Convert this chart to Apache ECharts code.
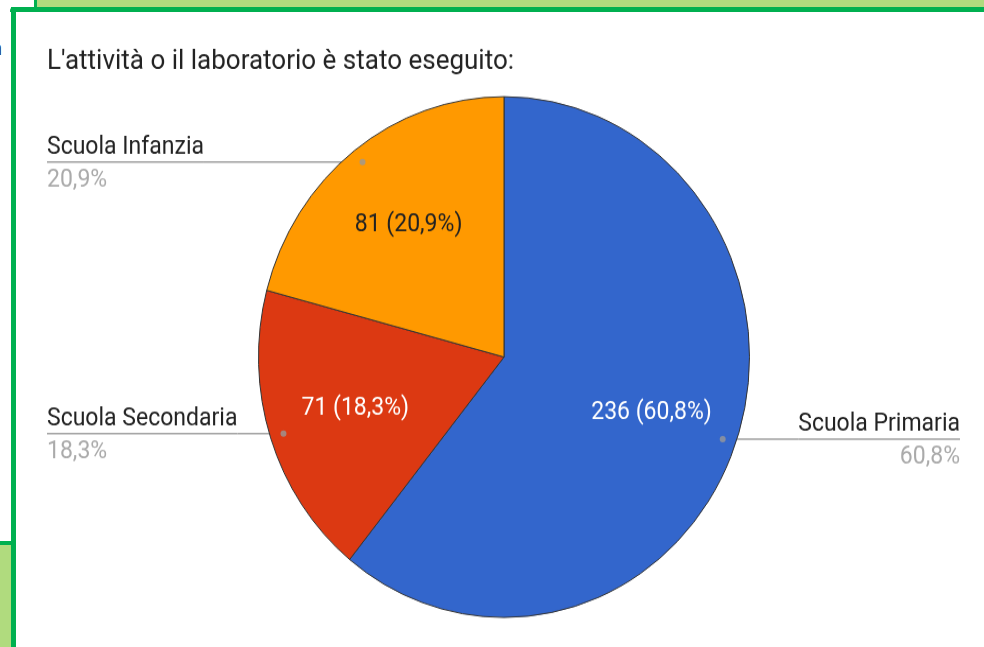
<!DOCTYPE html>
<html>
<head>
<meta charset="utf-8">
<script src="https://cdn.jsdelivr.net/npm/echarts@6/dist/echarts.min.js"></script>
<style>
  html, body { margin: 0; padding: 0; background: #fff; overflow: hidden; }
  #wrap { position: relative; width: 984px; height: 647px; overflow: hidden; background: #fff; }
  .bar { position: absolute; }
  #chart { position: absolute; left: 0; top: 0; width: 984px; height: 610px;
           transform: scaleY(1.0607); transform-origin: 0 0; }
</style>
</head>
<body>
<div id="wrap">
  <!-- green frames round the panel -->
  <div class="bar" style="left:37px;top:0;width:947px;height:8px;background:#b0db7e;"></div>
  <div class="bar" style="left:34px;top:0;width:3px;height:8px;background:#00b050;"></div>
  <div class="bar" style="left:10px;top:7px;width:974px;height:5px;background:#00b050;border-top-left-radius:4px;"></div>
  <div class="bar" style="left:11px;top:7px;width:5px;height:640px;background:#00b050;"></div>
  <div class="bar" style="left:0;top:541px;width:12px;height:4px;background:#00b050;"></div>
  <div class="bar" style="left:0;top:545px;width:11px;height:102px;background:#b0db7e;"></div>
  <div class="bar" style="left:-9px;top:36px;font:20px Roboto;color:#222;">n</div>
  <div id="chart"></div>
</div>
<script type="text/javascript">
    // categories and counts
    var names = ['Scuola Primaria', 'Scuola Secondaria', 'Scuola Infanzia'];
    var counts = [236, 71, 81];
    var palette = ['#3366cc', '#dc3912', '#ff9900'];
    var innerTextColors = ['#fff', '#fff', '#222'];

    var total = 0;
    for (var i = 0; i < counts.length; i++) { total += counts[i]; }

    function pct(v) {
        return (v / total * 100).toFixed(1).replace('.', ',');
    }

    var cx = 504, cy = 336.6, r = 245.5;
    var font = 'Roboto, "Noto Sans", sans-serif';

    var pieData = [], labelData = [], innerData = [], dots = [];
    var acc = 0;
    for (var j = 0; j < names.length; j++) {
        pieData.push({ name: names[j], value: counts[j], itemStyle: { color: palette[j] } });
        labelData.push({ name: names[j], value: counts[j] });
        innerData.push({ name: names[j], value: counts[j], label: { color: innerTextColors[j] } });
        dots.push([0.945, acc + counts[j] / 2]);
        acc += counts[j];
    }

    var chart = echarts.init(document.getElementById('chart'));
    var option = {
        animation: false,
        title: {
            text: "L'attività o il laboratorio è stato eseguito:",
            left: 47,
            top: 45,
            padding: 0,
            textStyle: { fontFamily: font, fontSize: 26, fontWeight: 'normal', color: '#222' }
        },
        polar: { center: [cx, cy], radius: r },
        angleAxis: { type: 'value', min: 0, max: total, startAngle: 90, clockwise: true, show: false },
        radiusAxis: { type: 'value', min: 0, max: 1, show: false },
        series: [
            {
                // the visible pie
                type: 'pie',
                center: [cx, cy],
                radius: r,
                startAngle: 90,
                clockwise: true,
                silent: true,
                label: { show: false },
                labelLine: { show: false },
                itemStyle: { borderColor: '#333', borderWidth: 1 },
                data: pieData
            },
            {
                // values inside the slices
                type: 'pie',
                center: [cx, cy],
                radius: [0, r * 1.25],
                startAngle: 90,
                clockwise: true,
                silent: true,
                itemStyle: { color: 'rgba(0,0,0,0)' },
                label: {
                    position: 'inside',
                    fontFamily: font,
                    fontSize: 23,
                    formatter: function (p) { return p.value + ' (' + pct(p.value) + '%)'; }
                },
                labelLine: { show: false },
                data: innerData
            },
            {
                // names with leader lines
                type: 'pie',
                left: 47,
                right: 24,
                top: 0,
                bottom: 0,
                center: [cx - 47, cy],
                radius: r * 0.945,
                startAngle: 90,
                clockwise: true,
                silent: true,
                itemStyle: { color: 'rgba(0,0,0,0)' },
                label: {
                    position: 'outer',
                    alignTo: 'edge',
                    edgeDistance: 0,
                    distanceToLabelLine: 0,
                    formatter: function (p) {
                        return '{sp|}\n{name|' + p.name + '}\n{hr|}\n{pct|' + pct(p.value) + '%}';
                    },
                    rich: {
                        sp: { height: 8, lineHeight: 8 },
                        name: { fontFamily: font, fontSize: 23, color: '#222', lineHeight: 26 },
                        hr: { width: '100%', height: 1.5, backgroundColor: '#9e9e9e' },
                        pct: { fontFamily: font, fontSize: 23, color: '#aaa', lineHeight: 34 }
                    }
                },
                labelLine: { show: true, length: 0, length2: 20, lineStyle: { color: '#9e9e9e', width: 1.5 } },
                data: labelData
            },
            {
                // dots where the leader lines start
                type: 'scatter',
                coordinateSystem: 'polar',
                symbolSize: 6,
                silent: true,
                itemStyle: { color: '#999' },
                data: dots
            }
        ]
    };
    chart.setOption(option);
</script>
</body>
</html>
